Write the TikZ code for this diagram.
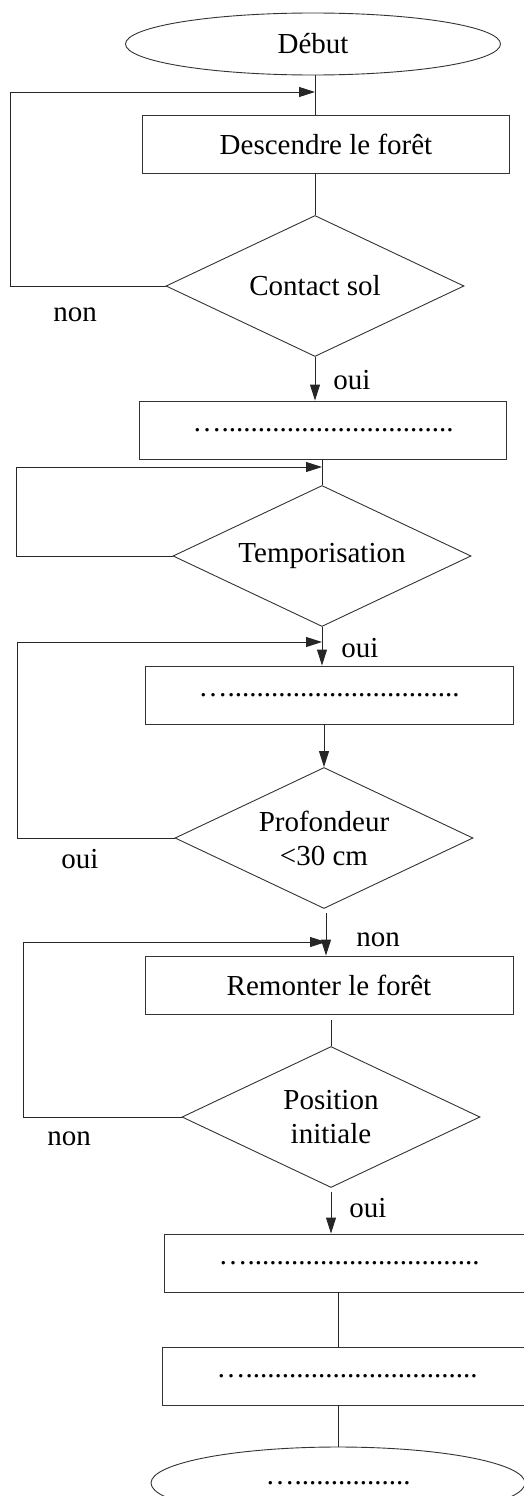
\documentclass[tikz,border=0pt]{standalone}
\usepackage{fontspec}
\setmainfont{Liberation Serif}
\usetikzlibrary{shapes.geometric,arrows.meta}
\tikzset{
    base/.style={draw=black!80, line width=0.9pt, font=\fontsize{29}{34}\selectfont, inner sep=0pt},
    boite/.style={base, rectangle, minimum width=367pt, minimum height=58pt},
    test/.style={base, diamond, aspect=2.1, minimum width=298pt, minimum height=141pt, align=center},
    bout/.style={base, ellipse},
    lien/.style={draw=black!85, line width=0.9pt},
    fleche/.style={lien, -{Triangle[length=16pt, width=10pt]}},
    txt/.style={font=\fontsize{29}{34}\selectfont, inner sep=0pt}
}
\begin{document}
\begin{tikzpicture}[x=1pt, y=-1pt]
        \clip(0, 0) rectangle (524, 1496);

        \node[bout, minimum width=375pt, minimum height=62pt] (debut) at(313, 44){Début};
        \node[boite] (b1) at(326, 144){Descendre le forêt};
        \node[test] (t1) at(315, 286){Contact sol};
        \node[boite] (b2) at(323, 430){…................................};
        \node[test] (t2) at(322, 556){Temporisation};
        \node[boite, minimum width=368pt] (b3) at(329, 695){…................................};
        \node[test] (t3) at(324, 838){Profondeur\\<30 cm};
        \node[boite, minimum width=368pt] (b4) at(329, 985){Remonter le forêt};
        \node[test] (t4) at(331, 1117){Position\\initiale};
        \node[boite, minimum width=370pt] (b5) at(349, 1263){…................................};
        \node[boite, minimum width=370pt] (b6) at(347, 1376){…................................};
        \node[bout, minimum width=374pt, minimum height=72pt] (fin) at(338, 1483){…................};

        \coordinate (l1) at(10, 92);
        \coordinate (j1) at(315, 92);
        \coordinate (l2) at(16, 467);
        \coordinate (j2) at(322, 467);
        \coordinate (l3) at(17, 642);
        \coordinate (j3) at(322, 642);
        \coordinate (l4) at(23, 942);
        \coordinate (j4) at(326, 942);

        \draw[lien](debut.south -| t1) to (b1.north -| t1);
        \draw[lien](b1.south -| t1) to (t1.north);
        \draw[fleche](t1.west) -| (l1) -- (j1);
        \draw[fleche](t1.south) to (t1.south |- b2.north);

        \draw[lien](b2.south -| t2) to (t2.north);
        \draw[fleche](t2.west) -| (l2) -- (j2);
        \draw[fleche](t2.south) to (t2.south |- b3.north);

        \draw[fleche](b3.south -| t3) to (t3.north);
        \draw[fleche](t3.west) -| (l3) -- (j3);
        \draw[fleche, shorten <=4pt](j4 |- t3.south) -- (j4 |- b4.north);

        \draw[lien, shorten <=6pt](b4.south -| t4) to (t4.north);
        \draw[fleche](t4.west) -| (l4) -- (j4);
        \draw[fleche, shorten <=4pt](t4.south) to (t4.south |- b5.north);

        \draw[lien](b5.south -| fin) to (b6.north -| fin);
        \draw[lien](b6.south -| fin) to (fin.north);

        \node[txt] (n1) at(75, 315){non};
        \node[txt] (o1) at(352, 380){oui};
        \node[txt] (o2) at(360, 648){oui};
        \node[txt] (o3) at(80, 859){oui};
        \node[txt] (n2) at(378, 940){non};
        \node[txt] (n3) at(69, 1139){non};
        \node[txt] (o4) at(368, 1208){oui};
    \end{tikzpicture}
\end{document}
